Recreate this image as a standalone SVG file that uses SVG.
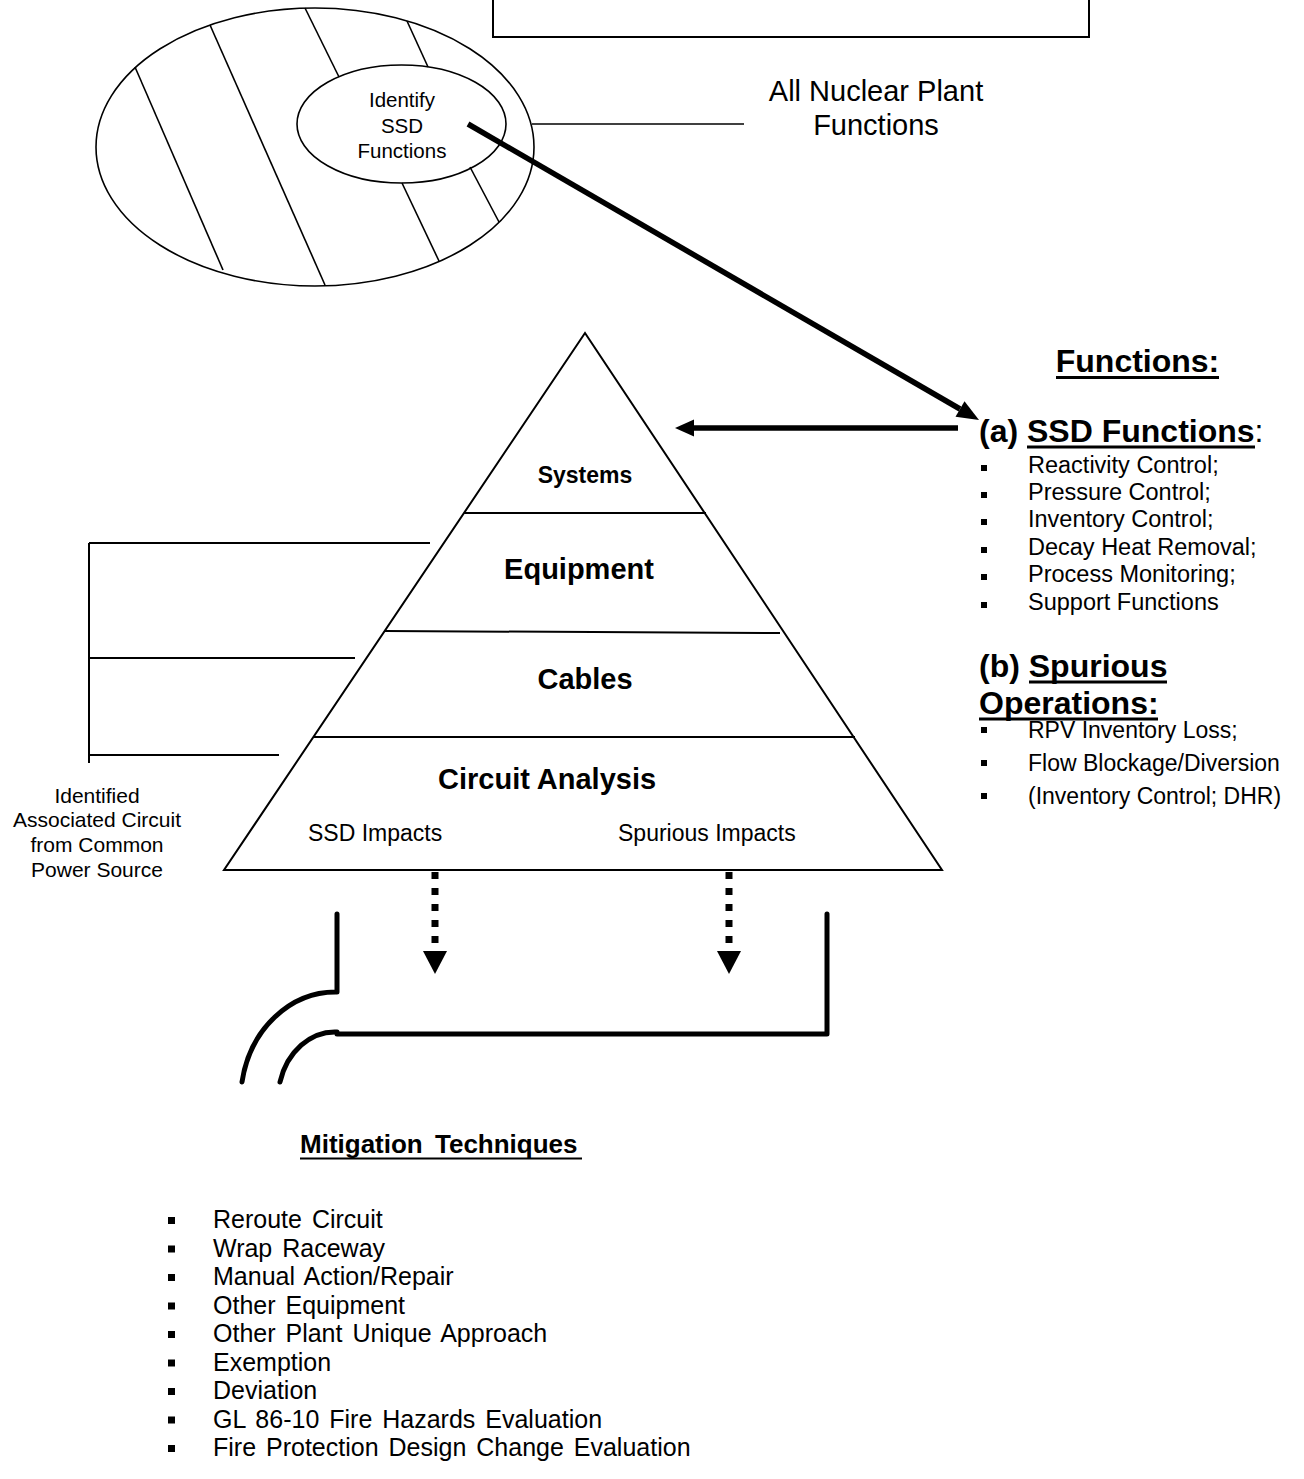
<svg xmlns="http://www.w3.org/2000/svg" width="1304" height="1479" viewBox="0 0 1304 1479">
<style>
text{font-family:"Liberation Sans",Arial,sans-serif;fill:#000}
.b{font-weight:bold}
.ln{stroke:#000;fill:none;stroke-width:1.6}
.ln2{stroke:#000;fill:none;stroke-width:2}
.thk{stroke:#000;fill:none;stroke-width:5.5}
.pipe{stroke:#000;fill:none;stroke-width:5;stroke-linecap:round;stroke-linejoin:round}
.dot{stroke:#000;fill:none;stroke-width:7;stroke-dasharray:7 9}
.ah{fill:#000;stroke:none}
.ul{stroke:#000;stroke-width:3}
</style>
<defs>
<rect id="bs" width="6" height="6" fill="#000"/>
<rect id="bm" width="7" height="7" fill="#000"/>
</defs>
<rect width="1304" height="1479" fill="#fff"/>

<g id="top-box">
<rect x="493" y="-10" width="596" height="47" class="ln2"/>
</g>

<g id="all-functions">
<ellipse cx="315" cy="147" rx="219" ry="139" class="ln"/>
<line x1="135" y1="67" x2="223" y2="270" class="ln"/>
<line x1="210" y1="25" x2="325" y2="285" class="ln"/>
<line x1="305" y1="8" x2="339" y2="77" class="ln"/>
<line x1="407" y1="21" x2="428" y2="67" class="ln"/>
<line x1="402" y1="183" x2="439" y2="261" class="ln"/>
<line x1="470" y1="167" x2="499" y2="222" class="ln"/>
<g font-size="29" text-anchor="middle">
<text x="876" y="101">All Nuclear Plant</text>
<text x="876" y="135">Functions</text>
</g>
</g>

<g id="identify-ssd">
<ellipse cx="401.5" cy="124" rx="104.5" ry="59" class="ln" fill="#fff"/>
<g font-size="20.5" text-anchor="middle">
<text x="402" y="107">Identify</text>
<text x="402" y="133">SSD</text>
<text x="402" y="158">Functions</text>
</g>
</g>

<g id="pyramid">
<polygon points="585,333 224,870 942,870" class="ln2"/>
<line x1="464" y1="513" x2="706" y2="513" class="ln2"/>
<line x1="385" y1="631" x2="780" y2="633" class="ln2"/>
<line x1="314" y1="737" x2="855" y2="737" class="ln2"/>
<text x="585" y="483" font-size="23" class="b" text-anchor="middle">Systems</text>
<text x="579" y="579" font-size="29" class="b" text-anchor="middle">Equipment</text>
<text x="585" y="689" font-size="29" class="b" text-anchor="middle">Cables</text>
<text x="438" y="789" font-size="29" class="b">Circuit Analysis</text>
<text x="308" y="841" font-size="23">SSD Impacts</text>
<text x="618" y="841" font-size="23">Spurious Impacts</text>
</g>

<g id="associated-circuit">
<g font-size="21" text-anchor="middle">
<text x="97" y="803">Identified</text>
<text x="97" y="827">Associated Circuit</text>
<text x="97" y="852">from Common</text>
<text x="97" y="877">Power Source</text>
</g>
</g>

<g id="functions-list">
<text x="1137.5" y="372" font-size="32" class="b" text-anchor="middle">Functions:</text>
<line x1="1056" y1="377.5" x2="1219" y2="377.5" class="ul"/>
<text x="979" y="442" font-size="32"><tspan class="b">(a) SSD Functions</tspan>:</text>
<line x1="1027" y1="447" x2="1255" y2="447" class="ul"/>
<g font-size="23.5">
<text x="1028" y="473">Reactivity Control;</text>
<text x="1028" y="500">Pressure Control;</text>
<text x="1028" y="527">Inventory Control;</text>
<text x="1028" y="555">Decay Heat Removal;</text>
<text x="1028" y="582">Process Monitoring;</text>
<text x="1028" y="610">Support Functions</text>
</g>
<use href="#bs" x="981" y="465"/>
<use href="#bs" x="981" y="492"/>
<use href="#bs" x="981" y="519"/>
<use href="#bs" x="981" y="547"/>
<use href="#bs" x="981" y="574"/>
<use href="#bs" x="981" y="602"/>
<text x="979" y="677" font-size="32" class="b">(b) Spurious</text>
<line x1="1029" y1="682" x2="1167" y2="682" class="ul"/>
<text x="979" y="714" font-size="32" class="b">Operations:</text>
<line x1="979" y1="719" x2="1158" y2="719" class="ul"/>
<g font-size="23">
<text x="1028" y="738">RPV Inventory Loss;</text>
<text x="1028" y="771">Flow Blockage/Diversion</text>
<text x="1028" y="804">(Inventory Control; DHR)</text>
</g>
<use href="#bs" x="981" y="727"/>
<use href="#bs" x="981" y="760"/>
<use href="#bs" x="981" y="793"/>
</g>

<g id="mitigation">
<text x="300" y="1153" font-size="26" class="b" word-spacing="5">Mitigation Techniques</text>
<line x1="300" y1="1158.5" x2="582" y2="1158.5" stroke="#000" stroke-width="2"/>
<g font-size="25" word-spacing="3">
<text x="213" y="1228">Reroute Circuit</text>
<text x="213" y="1256.5">Wrap Raceway</text>
<text x="213" y="1285">Manual Action/Repair</text>
<text x="213" y="1313.5">Other Equipment</text>
<text x="213" y="1342">Other Plant Unique Approach</text>
<text x="213" y="1370.5">Exemption</text>
<text x="213" y="1399">Deviation</text>
<text x="213" y="1427.5">GL 86-10 Fire Hazards Evaluation</text>
<text x="213" y="1456">Fire Protection Design Change Evaluation</text>
</g>
<use href="#bm" x="168" y="1217"/>
<use href="#bm" x="168" y="1245.5"/>
<use href="#bm" x="168" y="1274"/>
<use href="#bm" x="168" y="1302.5"/>
<use href="#bm" x="168" y="1331"/>
<use href="#bm" x="168" y="1359.5"/>
<use href="#bm" x="168" y="1388"/>
<use href="#bm" x="168" y="1416.5"/>
<use href="#bm" x="168" y="1445"/>
</g>

<g id="connectors">
<line x1="532" y1="124" x2="744" y2="124" class="ln"/>
<line x1="468" y1="124" x2="960" y2="409" class="thk"/>
<polygon points="979,420 964.5,401.2 955.5,416.8" class="ah"/>
<line x1="958" y1="428" x2="692" y2="428" class="thk"/>
<polygon points="675,428 694,419.5 694,436.5" class="ah"/>
<line x1="89" y1="543" x2="89" y2="763" class="ln2"/>
<line x1="89" y1="543" x2="430" y2="543" class="ln2"/>
<line x1="89" y1="658" x2="355" y2="658" class="ln2"/>
<line x1="89" y1="755" x2="279" y2="755" class="ln2"/>
<line x1="435" y1="872" x2="435" y2="944" class="dot"/>
<polygon points="423,951 447,951 435,974" class="ah"/>
<line x1="729" y1="872" x2="729" y2="944" class="dot"/>
<polygon points="717,951 741,951 729,974" class="ah"/>
</g>

<g id="mitigation-bracket">
<path d="M337,914 V992 A95,108 0 0 0 242,1082" class="pipe"/>
<path d="M337,1032 A57,68 0 0 0 280,1082" class="pipe"/>
<path d="M337,1034 H827 V914" class="pipe"/>
</g>
</svg>
